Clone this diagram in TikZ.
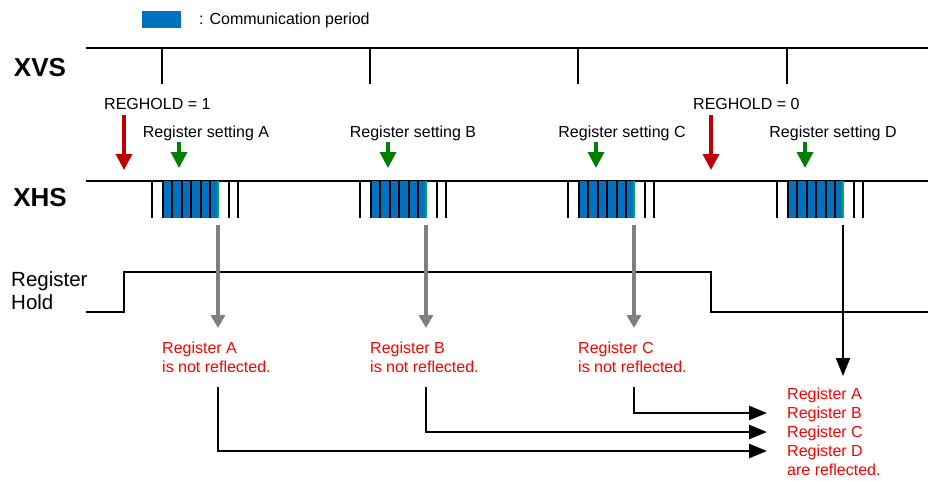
\documentclass[tikz,border=0pt]{standalone}
\usepackage{fontspec}
\setmainfont{Liberation Sans}
\usepackage{xcolor}
\usepackage{tikz}
\usetikzlibrary{arrows.meta,positioning}
\definecolor{commblue}{HTML}{0070C0}
\definecolor{lastgreen}{HTML}{00B050}
\definecolor{holdred}{HTML}{C00000}
\definecolor{setgreen}{HTML}{008000}
\definecolor{notered}{HTML}{FF0000}
\definecolor{graymuted}{HTML}{808080}
\tikzset{every node/.append style={inner sep=0pt,font=\fontsize{16}{18.8}\selectfont},
  signame/.style={anchor=base,font=\bfseries\fontsize{26}{30}\selectfont},
  wave/.style={line width=2pt},
  pulse/.style={line width=2pt},
  holdarrow/.style={-{Triangle[width=16pt,length=16pt]},holdred,line width=3.5pt},
  setarrow/.style={-{Triangle[width=16pt,length=16pt]},setgreen,line width=3.5pt},
  grayarrow/.style={-{Triangle[width=14pt,length=13pt]},graymuted,line width=3.5pt},
  blackarrow/.style={-{Triangle[width=14pt,length=18pt]},black,line width=2.7pt},
  note/.style={anchor=base west,align=left,text=notered}}

\begin{document}
\begin{tikzpicture}[x=1pt,y=-1pt]
  \useasboundingbox (0,0) rectangle (928,480);
  % legend
  \fill[commblue] (142,11) rectangle (181,28);
  \node[anchor=base west] (legend) at (199,24) {: Communication period};
  % XVS
  \node[signame] (xvs) at (40,76) {XVS};
  \draw[wave] (86,48) -- (928,48);
  \foreach \x in {162,370,578,787} \draw[wave] (\x,48) -- (\x,84);
  % XHS with the four communication bursts
  \node[signame] (xhs) at (40,206) {XHS};
  \draw[wave] (86,181) -- (928,181);
  \foreach \g/\n in {152/A,360/B,568/C,777/D} {
    \fill[commblue] (\g+10,181) rectangle (\g+67,218);
    \foreach \d in {0,11,20.4,29.8,39.2,48.6,58,77,86}
      \draw[pulse] (\g+\d,181) -- (\g+\d,218);
    \draw[pulse,lastgreen] (\g+66,181) -- (\g+66,218);
    \coordinate (end\n) at (\g+66,225);
  }
  % REGHOLD and register setting markers
  \node[anchor=base west] (hold1) at (104,109) {REGHOLD = 1};
  \node[anchor=base west] (hold0) at (693,109) {REGHOLD = 0};
  \coordinate (h1top) at (124,115); \coordinate (h1bot) at (124,170);
  \coordinate (h0top) at (711,115); \coordinate (h0bot) at (711,170);
  \draw[holdarrow] (h1top) -- (h1bot);
  \draw[holdarrow] (h0top) -- (h0bot);
  \foreach \n/\t/\a in {A/206/179,B/413/388,C/622/596,D/833/805} {
    \node[anchor=base] (set\n) at (\t,137) {Register setting \n};
    \coordinate (st\n) at (\a,142);
    \coordinate (sb\n) at (\a,168);
    \draw[setarrow] (st\n) -- (sb\n);
  }
  % Register Hold (base anchor = last line)
  \node[anchor=base west,align=left,font=\fontsize{20.5}{23}\selectfont] (reghold) at (11,309) {Register\\Hold};
  \draw[wave] (86,312) -- (124,312) -- (124,272) -- (711,272) -- (711,312) -- (928,312);
  % not reflected
  \foreach \n/\x in {A/162,B/370,C/578} {
    \node[note] (not\n) at (\x,372) {Register \n\\is not reflected.};
    \coordinate (gray\n) at (\x+56,328);
    \draw[grayarrow] (end\n) -- (gray\n);
    \coordinate (from\n) at (\x+56,387);
  }
  \node[note] (refl) at (787,475) {Register A\\Register B\\Register C\\Register D\\are reflected.};
  \coordinate (dtip) at (843,376);
  \draw[blackarrow,line width=2pt] (endD) -- (dtip);
  \coordinate (inC) at (767,413);
  \coordinate (inB) at (767,432);
  \coordinate (inA) at (767,451);
  \draw[blackarrow] (fromC) |- (inC);
  \draw[blackarrow] (fromB) |- (inB);
  \draw[blackarrow] (fromA) |- (inA);
\end{tikzpicture}
\end{document}
